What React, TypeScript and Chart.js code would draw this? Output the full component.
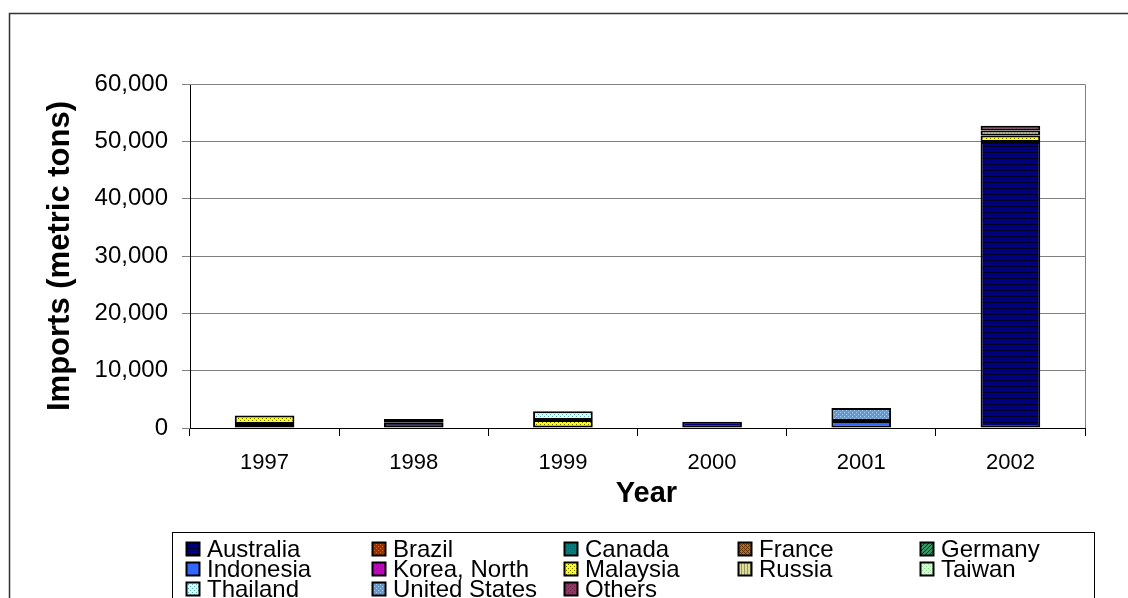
import React, { useEffect, useRef } from "react";
import { Chart, registerables } from "chart.js";

Chart.register(...registerables);

// ---- Data ----
const years = ["1997", "1998", "1999", "2000", "2001", "2002"];
const australia = [null, 900, null, 1100, null, 49900];
const brazil = [null, null, null, null, null, null];
const canada = [null, null, null, null, null, null];
const france = [null, null, null, null, null, null];
const germany = [null, null, null, null, null, null];
const indonesia = [700, null, null, null, 1200, null];
const koreaNorth = [null, null, null, null, null, null];
const malaysia = [1500, null, 1400, null, null, 1100];
const russia = [null, null, null, null, null, 900];
const taiwan = [null, null, null, null, null, null];
const thailand = [null, null, 1500, null, null, null];
const unitedStates = [null, 650, null, null, 2300, null];
const others = [null, null, null, null, null, 800];

const yMax = 60000;
const yStep = 10000;
const yTitle = "Imports (metric tons)";
const xTitle = "Year";

const FONT = '"Liberation Sans", Arial, sans-serif';

type Kind = "solid" | "hlines" | "dots" | "vlines" | "check" | "diag";

function makePattern(bg: string, fg: string, kind: Kind): CanvasPattern | string {
  if (kind === "solid") return bg;
  const c = document.createElement("canvas");
  const size = kind === "hlines" || kind === "vlines" ? 3 : 4;
  c.width = size;
  c.height = size;
  const g = c.getContext("2d")!;
  g.fillStyle = bg;
  g.fillRect(0, 0, size, size);
  g.fillStyle = fg;
  if (kind === "hlines") g.fillRect(0, 2, size, 1);
  if (kind === "vlines") g.fillRect(0, 0, 1, size);
  if (kind === "dots") {
    g.fillRect(0, 0, 1, 1);
    g.fillRect(2, 2, 1, 1);
  }
  if (kind === "check") {
    g.fillRect(0, 0, 1, 1);
    g.fillRect(1, 1, 1, 1);
    g.fillRect(2, 2, 1, 1);
    g.fillRect(3, 3, 1, 1);
    g.fillRect(2, 0, 1, 1);
    g.fillRect(0, 2, 1, 1);
  }
  if (kind === "diag") {
    for (let i = 0; i < size; i++) g.fillRect(i, size - 1 - i, 1, 1);
  }
  const ctx = document.createElement("canvas").getContext("2d")!;
  return ctx.createPattern(c, "repeat")!;
}

const seriesDefs: [string, (number | null)[], string, string, Kind][] = [
  ["Australia", australia, "#000080", "#000020", "hlines"],
  ["Brazil", brazil, "#993300", "#CC6633", "dots"],
  ["Canada", canada, "#008080", "#006060", "dots"],
  ["France", france, "#CC6600", "#663300", "check"],
  ["Germany", germany, "#339966", "#003300", "diag"],
  ["Indonesia", indonesia, "#3366FF", "#3366FF", "solid"],
  ["Korea, North", koreaNorth, "#CC00CC", "#990099", "dots"],
  ["Malaysia", malaysia, "#FFFF00", "#666600", "dots"],
  ["Russia", russia, "#DDDD99", "#999966", "vlines"],
  ["Taiwan", taiwan, "#CCFFCC", "#99CC99", "dots"],
  ["Thailand", thailand, "#CCFFFF", "#66AAAA", "dots"],
  ["United States", unitedStates, "#6699CC", "#AACCEE", "dots"],
  ["Others", others, "#993366", "#662244", "dots"],
];

const framePlugin = {
  id: "frame",
  beforeDraw(chart: any) {
    const { ctx, width, height } = chart;
    ctx.save();
    ctx.fillStyle = "#fff";
    ctx.fillRect(0, 0, width, height);
    ctx.strokeStyle = "#333";
    ctx.lineWidth = 1.5;
    ctx.strokeRect(9.5, 13.5, width + 50, height + 50);
    ctx.restore();
  },
  afterDraw(chart: any) {
    const { ctx, chartArea } = chart;
    ctx.save();
    ctx.strokeStyle = "#808080";
    ctx.lineWidth = 1;
    ctx.beginPath();
    ctx.moveTo(chartArea.left, chartArea.top + 0.5);
    ctx.lineTo(chartArea.right + 0.5, chartArea.top + 0.5);
    ctx.lineTo(chartArea.right + 0.5, chartArea.bottom);
    ctx.stroke();
    // x axis title (slightly right of centre, as in the original)
    ctx.fillStyle = "#000";
    ctx.font = `bold 29px ${FONT}`;
    ctx.textAlign = "center";
    ctx.textBaseline = "middle";
    ctx.fillText(xTitle, (chartArea.left + chartArea.right) / 2 + 9, 494);
    ctx.restore();
  },
};

const boxLegendPlugin = {
  id: "boxLegend",
  afterDraw(chart: any) {
    const { ctx } = chart;
    const boxLeft = 172;
    const boxTop = 532;
    const boxRight = 1094;
    const cols = [186, 372, 564, 738, 920];
    const rowTop = 542;
    const rowH = 20;
    ctx.save();
    ctx.strokeStyle = "#000";
    ctx.lineWidth = 1;
    ctx.strokeRect(boxLeft + 0.5, boxTop + 0.5, boxRight - boxLeft, 120);
    ctx.font = `24px ${FONT}`;
    ctx.textBaseline = "alphabetic";
    ctx.textAlign = "left";
    chart.data.datasets.forEach((ds: any, i: number) => {
      const col = i % 5;
      const row = Math.floor(i / 5);
      const x = cols[col];
      const y = rowTop + row * rowH;
      ctx.fillStyle = ds.backgroundColor;
      ctx.fillRect(x, y, 13, 13);
      ctx.strokeStyle = "#000";
      ctx.lineWidth = 2;
      ctx.strokeRect(x + 0.5, y + 0.5, 13, 13);
      ctx.fillStyle = "#000";
      ctx.fillText(ds.label, x + 21, y + 15);
    });
    ctx.restore();
  },
};

export default function App() {
  const ref = useRef<HTMLCanvasElement | null>(null);

  useEffect(() => {
    if (!ref.current) return;
    const datasets = seriesDefs.map(([label, data, bg, fg, kind]) => ({
      label,
      data,
      backgroundColor: makePattern(bg, fg, kind),
      borderColor: "#000",
      borderWidth: 2,
      borderSkipped: false,
      barPercentage: 0.4,
      categoryPercentage: 1,
    }));
    const chart = new Chart(ref.current, {
      type: "bar",
      data: { labels: years, datasets },
      options: {
        responsive: false,
        animation: false,
        devicePixelRatio: 1,
        layout: { padding: { top: 84, right: 43, bottom: 87, left: 42 } },
        plugins: { legend: { display: false }, tooltip: { enabled: false } },
        scales: {
          x: {
            stacked: true,
            grid: {
              display: true,
              drawOnChartArea: false,
              drawTicks: true,
              tickLength: 8,
              color: "#000",
              offset: true,
            },
            border: { color: "#000", width: 1 },
            ticks: { color: "#000", font: { family: FONT, size: 22 }, padding: 14, maxRotation: 0 },
            title: { display: false, text: xTitle },
            afterFit(scale: any) {
              scale.height = 83;
            },
          },
          y: {
            stacked: true,
            min: 0,
            max: yMax,
            grid: { color: "#808080", tickLength: 8, lineWidth: 1 },
            border: { color: "#000", width: 1 },
            ticks: {
              stepSize: yStep,
              color: "#000",
              font: { family: FONT, size: 24 },
              padding: 14,
              callback: (v: any) => Number(v).toLocaleString("en-US"),
            },
            title: {
              display: true,
              text: yTitle,
              color: "#000",
              font: { family: FONT, size: 31, weight: "bold" },
              padding: 0,
            },
            afterFit(scale: any) {
              scale.width = 148;
            },
          },
        },
      },
      plugins: [framePlugin, boxLegendPlugin],
    } as any);
    return () => chart.destroy();
  }, []);

  return (
    <canvas
      ref={ref}
      width={1128}
      height={598}
      style={{ position: "absolute", left: 0, top: 0, display: "block" }}
    />
  );
}
